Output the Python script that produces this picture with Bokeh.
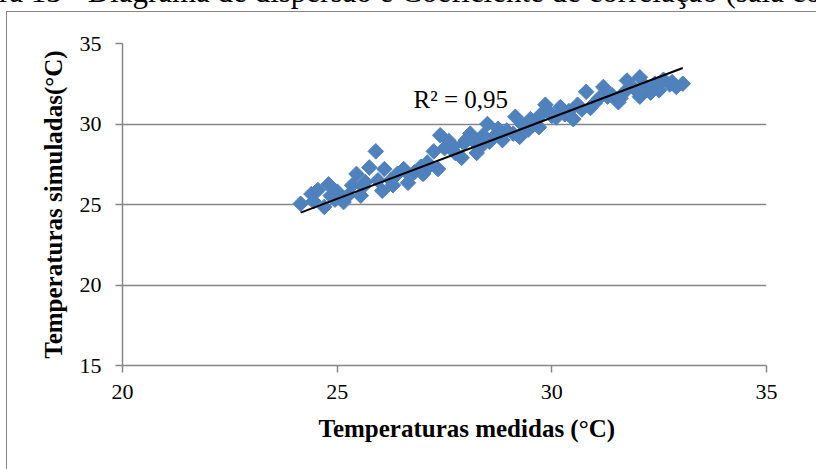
import math
from bokeh.plotting import figure
from bokeh.models import Range1d, Label, FixedTicker, Title, Div
from bokeh.layouts import column
from bokeh.embed import file_html
from bokeh.resources import INLINE

# ---- data ----
measured = [24.15, 24.40, 24.55, 24.70, 24.80, 24.85, 25.00, 25.15, 25.25, 25.35,
            25.45, 25.55, 25.65, 25.75, 25.90, 25.95, 26.05, 26.10, 26.25, 26.40,
            26.55, 26.65, 26.80, 27.00, 27.10, 27.25, 27.35, 27.40, 27.60, 27.75,
            27.90, 27.95, 28.10, 28.25, 28.35, 28.50, 28.55, 28.75, 28.85, 29.10,
            29.15, 29.30, 29.45, 29.60, 29.70, 29.85, 29.95, 30.20, 30.40, 30.50,
            30.80, 30.90, 31.20, 31.30, 31.55, 31.75, 31.90, 32.05, 32.05, 32.30,
            32.40, 32.60, 32.75, 32.90, 33.05, 27.15, 28.00, 30.10, 31.00, 31.60,
            26.95, 27.50, 27.70, 28.20, 28.40, 28.65, 28.95, 29.25, 29.50, 29.75,
            30.00, 30.30, 30.60, 30.70, 31.10, 31.40, 31.70, 32.20, 32.50, 32.80,
            24.45, 24.95, 25.60, 26.30, 26.70]
simulated = [25.05, 25.65, 25.90, 24.85, 26.25, 25.55, 25.80, 25.15, 25.55, 26.20,
             26.90, 25.55, 26.40, 27.30, 28.30, 26.50, 25.85, 27.20, 26.50, 26.90,
             27.20, 26.35, 27.00, 26.90, 27.60, 28.30, 27.20, 29.30, 28.95, 28.20,
             27.90, 28.80, 29.40, 28.20, 28.60, 30.00, 28.90, 29.70, 29.00, 29.40,
             30.45, 30.00, 29.65, 30.05, 29.80, 31.20, 30.70, 31.05, 30.80, 30.30,
             32.00, 31.00, 32.30, 31.70, 31.35, 32.70, 32.25, 32.90, 31.70, 31.95,
             32.50, 32.75, 32.45, 32.30, 32.50, 27.40, 29.00, 30.40, 31.30, 31.60,
             27.35, 28.50, 28.60, 28.90, 29.30, 29.20, 29.60, 29.20, 30.30, 30.60,
             30.50, 30.60, 31.20, 30.90, 31.60, 31.80, 32.00, 32.30, 32.10, 32.60,
             25.20, 25.30, 26.10, 26.20, 26.80]

trend_slope = 1.009
trend_intercept = 0.13
r2_text = "R² = 0,95"

x_ticks = [20, 25, 30, 35]
y_ticks = [15, 20, 25, 30, 35]

x_title = "Temperaturas medidas (°C)"
y_title = "Temperaturas simuladas(°C)"
caption = "ra 13 - Diagrama de dispersão e Coeficiente de correlação (sala co"

W, H = 816, 469
CAP_H = 12
FIG_X = 7
FW, FH = W - FIG_X, H - CAP_H
FONT = "Liberation Serif"
GRAY = "#868686"

p = figure(width=FW, height=FH, output_backend="svg", toolbar_location=None,
           x_range=Range1d(20, 35), y_range=Range1d(15, 35),
           min_border_left=115, min_border_right=50,
           min_border_top=31, min_border_bottom=104,
           margin=(0, 0, 0, FIG_X),
           styles={"outline": "1px solid #868686"})
p.outline_line_color = None
p.background_fill_color = "white"
p.border_fill_color = "white"

for ax, ticks in ((p.xaxis[0], x_ticks), (p.yaxis[0], y_ticks)):
    ax.ticker = FixedTicker(ticks=ticks)
    ax.axis_line_color = GRAY
    ax.axis_line_width = 1.5
    ax.major_tick_line_color = GRAY
    ax.major_tick_line_width = 1.5
    ax.major_tick_out = 7
    ax.major_tick_in = 0
    ax.minor_tick_line_color = None
    ax.major_label_text_font = FONT
    ax.major_label_text_font_size = "22px"
    ax.major_label_text_color = "black"
p.xaxis.major_label_standoff = 12
p.yaxis.major_label_standoff = 14

p.yaxis.axis_label = y_title
p.yaxis.axis_label_text_font = FONT
p.yaxis.axis_label_text_font_size = "25px"
p.yaxis.axis_label_text_font_style = "bold"
p.yaxis.axis_label_text_color = "black"
p.yaxis.axis_label_standoff = 10

p.xgrid.grid_line_color = None
p.ygrid.grid_line_color = GRAY
p.ygrid.grid_line_width = 1.5

p.scatter(measured, simulated, marker="square", size=11, angle=math.pi / 4,
          fill_color="#4F81BD", line_color="#4F81BD")

x0, x1 = min(measured), max(measured)
p.line([x0, x1], [trend_slope * x0 + trend_intercept, trend_slope * x1 + trend_intercept],
       line_color="black", line_width=2)

p.add_layout(Label(x=26.78, y=31.52, text=r2_text, text_font=FONT,
                   text_font_size="25px", text_baseline="alphabetic",
                   text_color="black"))

p.add_layout(Title(text=x_title, align="left", offset=196, text_font=FONT,
                   text_font_size="25px", text_font_style="bold",
                   text_color="black", standoff=22), "below")

cap = Div(text=('<div style="font-family: \'Liberation Serif\'; font-size: 31px; '
                'line-height: 31px; position: relative; top: -24px; left: -1px; '
                'white-space: nowrap; color: black;">' + caption + '</div>'),
          width=W, height=CAP_H, margin=0, styles={"overflow": "hidden"})

layout = column(cap, p, spacing=0, margin=0)

open("out.html", "w").write(file_html(layout, INLINE))
